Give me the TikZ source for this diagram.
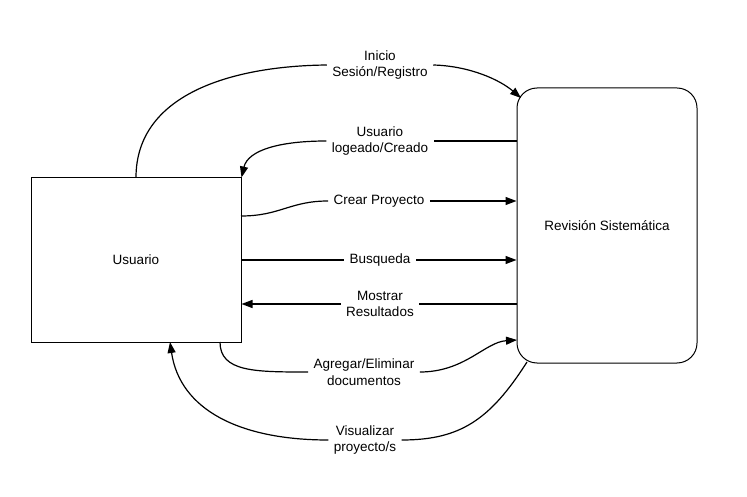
\documentclass[tikz,border=0pt]{standalone}
\usepackage{fontspec}
\setmainfont{Liberation Sans}
\usetikzlibrary{arrows.meta}

\begin{document}
\begin{tikzpicture}[x=1pt, y=-1pt, line width=1.2pt,
	every node/.style={font=\fontsize{13.5}{16.5}\selectfont},
	caja/.style={draw, line width=1pt},
	lbl/.style={align=center, inner xsep=5pt, inner ysep=2pt},
	flecha/.style={-{Triangle[length=11pt,width=8pt]}}]
\useasboundingbox (0,0) rectangle (747,497);
\node[caja, minimum width=210, minimum height=164] (usr) at (136,260) {Usuario};
\node[caja, rounded corners=20pt, minimum width=180, minimum height=275] (rev) at (607,225.5) {Revisión Sistemática};
\node[lbl] (ini) at (380,65) {Inicio\\Sesión/Registro};
\node[lbl] (log) at (380,141) {Usuario\\logeado/Creado};
\node[lbl] (crp) at (379,201) {Crear Proyecto};
\node[lbl] (bus) at (380,260) {Busqueda};
\node[lbl] (mos) at (380,304) {Mostrar\\Resultados};
\node[lbl] (agr) at (364,372) {Agregar/Eliminar\\documentos};
\node[lbl] (vis) at (365,440) {Visualizar\\proyecto/s};
\coordinate (revIn) at (521,98);
\coordinate (crp0) at (241,216);
\coordinate (agr0) at (220,342);
\coordinate (agr1) at (517,340);
\coordinate (vis0) at (527,362);
\coordinate (vis1) at (170,342);
\draw (usr.north) .. controls (136,95) and (230,66) .. (ini.west);
\draw[flecha] (ini.east) .. controls (470,66) and (500,80) .. (revIn);
\draw (rev.west |- log) -- (log.east);
\draw[flecha] (log.west) .. controls (280,141) and (248,150) .. (usr.north east);
\draw (crp0) .. controls (280,216) and (290,201) .. (crp.west);
\draw[flecha] (crp.east) -- (rev.west |- crp);
\draw (usr.east |- bus) -- (bus.west);
\draw[flecha] (bus.east) -- (rev.west |- bus);
\draw (rev.west |- mos) -- (mos.east);
\draw[flecha] (mos.west) -- (usr.east |- mos);
\draw (agr0) .. controls (220,372) and (255,372) .. (agr.west);
\draw[flecha] (agr.east) .. controls (465,372) and (485,342) .. (agr1);
\draw (vis0) .. controls (490,420) and (460,440) .. (vis.east);
\draw[flecha] (vis.west) .. controls (240,440) and (180,410) .. (vis1);
\end{tikzpicture}
\end{document}
